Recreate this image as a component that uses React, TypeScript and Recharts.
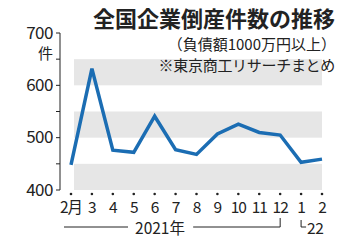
import React from 'react';
import { LineChart, Line, XAxis, YAxis, ReferenceArea } from 'recharts';

const months = ['2月', '3', '4', '5', '6', '7', '8', '9', '10', '11', '12', '1', '2'];
const counts = [448, 632, 476, 472, 541, 477, 468, 507, 526, 510, 505, 453, 459];
const yTicks = [400, 450, 500, 550, 600, 650, 700];
const bands: [number, number][] = [[400, 450], [500, 550], [600, 650]];

const FONT = '"Noto Sans CJK JP", "Noto Sans", sans-serif';
const INK = '#222';

const data = months.map((m, i) => ({ key: i, month: m, count: counts[i] }));

const YTick = (props: any) => {
  const { x, y, payload } = props;
  if (payload.value % 100 !== 0) return null;
  return (
    <g>
      <text x={x} y={y} dy={5.5} textAnchor="end" fontSize={17} fill={INK} fontFamily={FONT} letterSpacing={-0.5}>
        {payload.value}
      </text>
      {payload.value === 700 && (
        <text x={x} y={y + 21} dy={5} textAnchor="end" fontSize={15} fill={INK} fontFamily={FONT}>
          件
        </text>
      )}
    </g>
  );
};

const XTick = (props: any) => {
  const { x, y, index } = props;
  const label = months[index];
  return (
    <g>
      <circle cx={x} cy={y + 4} r={1.3} fill={INK} />
      <text x={x} y={y + 23} textAnchor="middle" fontSize={15.5} fill={INK} fontFamily={FONT} letterSpacing={-1}>
        {label}
      </text>
      {index === 0 && (
        <g>
          <line x1={x - 7} x2={x + 57} y1={y + 37} y2={y + 37} stroke={INK} strokeWidth={1} />
          <text x={x + 89} y={y + 44} textAnchor="middle" fontSize={15.5} fill={INK} fontFamily={FONT}>
            2021年
          </text>
        </g>
      )}
      {index === 10 && (
        <path d={`M${x - 87},${y + 37} H${x} V${y + 28}`} fill="none" stroke={INK} strokeWidth={1} />
      )}
      {index === 11 && (
        <g>
          <path d={`M${x},${y + 30} V${y + 37} H${x + 5}`} fill="none" stroke={INK} strokeWidth={1} />
          <text x={x + 6} y={y + 44} textAnchor="start" fontSize={15.5} fill={INK} fontFamily={FONT} letterSpacing={-0.5}>
            22
          </text>
        </g>
      )}
    </g>
  );
};

const Band = (props: any) => {
  const { x, y, width, height } = props;
  return <rect x={x + 3} y={y} width={width - 3} height={height} fill="#e6e6e6" />;
};

export default function App() {
  return (
    <div style={{ position: 'absolute', left: 0, top: 0, width: 360, height: 240, background: '#fff', fontFamily: FONT }}>
      <LineChart width={360} height={240} data={data} margin={{ top: 33, right: 24, bottom: 0, left: 0 }}>
        {bands.map(([a, b]) => (
          <ReferenceArea key={a} y1={a} y2={b} shape={<Band />} ifOverflow="visible" />
        ))}
        <XAxis
          dataKey="key"
          type="category"
          height={50}
          axisLine={false}
          tickLine={false}
          tickSize={0}
          tickMargin={0}
          interval={0}
          padding={{ left: 11, right: 14 }}
          tick={<XTick />}
        />
        <YAxis
          domain={[400, 700]}
          ticks={yTicks}
          interval={0}
          width={60}
          axisLine={{ stroke: INK, strokeWidth: 1 }}
          tickLine={{ stroke: INK, strokeWidth: 1 }}
          tickSize={4}
          tickMargin={3}
          tick={<YTick />}
        />
        <Line
          type="linear"
          dataKey="count"
          stroke="#1b6db3"
          strokeWidth={3.5}
          dot={false}
          isAnimationActive={false}
        />
      </LineChart>
      <div style={{ position: 'absolute', right: 25, top: 2, fontSize: 22, fontWeight: 700, color: INK, whiteSpace: 'nowrap', lineHeight: '30px' }}>
        全国企業倒産件数の推移
      </div>
      <div style={{ position: 'absolute', right: 24, top: 34, fontSize: 15, color: INK, whiteSpace: 'nowrap', lineHeight: '20px' }}>
        （負債額1000万円以上）
      </div>
      <div style={{ position: 'absolute', right: 25, top: 55, fontSize: 15, color: INK, whiteSpace: 'nowrap', lineHeight: '20px', letterSpacing: -0.3 }}>
        ※東京商工リサーチまとめ
      </div>
    </div>
  );
}
